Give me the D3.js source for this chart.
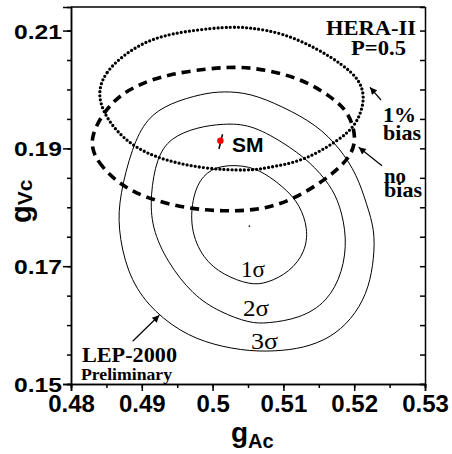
<!DOCTYPE html>
<html>
<head>
<meta charset="utf-8">
<script src="https://cdn.jsdelivr.net/npm/d3@7"></script>
<style>
body{margin:0;background:#fff}
svg{display:block}
</style>
</head>
<body>
<script>
// contours, [gAc, gVc]
var lep1sigma=[[0.5010,0.1872],[0.5053,0.1871],[0.5081,0.1852],[0.5105,0.1829],[0.5123,0.1804],[0.5135,0.1764],[0.5131,0.1724],[0.5109,0.1690],[0.5077,0.1671],[0.5053,0.1668],[0.5015,0.1685],[0.4986,0.1713],[0.4968,0.1764],[0.4972,0.1821],[0.4986,0.1855]]
var lep2sigma=[[0.5015,0.1942],[0.5053,0.1941],[0.5099,0.1911],[0.5138,0.1877],[0.5166,0.1838],[0.5180,0.1804],[0.5190,0.1748],[0.5184,0.1690],[0.5162,0.1639],[0.5123,0.1611],[0.5077,0.1603],[0.5053,0.1603],[0.5010,0.1622],[0.4972,0.1651],[0.4936,0.1707],[0.4914,0.1765],[0.4912,0.1821],[0.4921,0.1884],[0.4940,0.1918],[0.4978,0.1936]]
var lep3sigma=[[0.5015,0.1997],[0.5053,0.1994],[0.5099,0.1971],[0.5147,0.1940],[0.5180,0.1900],[0.5204,0.1855],[0.5218,0.1804],[0.5229,0.1761],[0.5228,0.1714],[0.5221,0.1664],[0.5203,0.1620],[0.5174,0.1584],[0.5138,0.1564],[0.5099,0.1556],[0.5053,0.1555],[0.5001,0.1566],[0.4954,0.1588],[0.4907,0.1634],[0.4879,0.1690],[0.4866,0.1765],[0.4869,0.1821],[0.4886,0.1901],[0.4907,0.1952],[0.4940,0.1977],[0.4986,0.1993]]
var hera1bias=[[0.4835,0.1979],[0.4845,0.2030],[0.4893,0.2076],[0.4940,0.2096],[0.5020,0.2107],[0.5053,0.2105],[0.5099,0.2096],[0.5147,0.2070],[0.5184,0.2042],[0.5208,0.2016],[0.5215,0.1986],[0.5208,0.1954],[0.5194,0.1928],[0.5161,0.1901],[0.5123,0.1877],[0.5076,0.1867],[0.5053,0.1862],[0.4986,0.1865],[0.4916,0.1884],[0.4869,0.1918]]
var heraNoBias=[[0.4824,0.1917],[0.4836,0.1877],[0.4869,0.1838],[0.4907,0.1815],[0.4963,0.1798],[0.5015,0.1793],[0.5066,0.1795],[0.5113,0.1812],[0.5161,0.1848],[0.5194,0.1883],[0.5204,0.1917],[0.5192,0.1962],[0.5170,0.1985],[0.5138,0.2010],[0.5100,0.2027],[0.5053,0.2038],[0.5010,0.2038],[0.4940,0.2027],[0.4893,0.2008],[0.4855,0.1979]]
var smPoint=[0.5011,0.1913]
var smBar=[[0.5014,0.1924],[0.5009,0.1899]]
var lepCentre=[0.5052,0.1768]
var xTicks=[0.48,0.49,0.50,0.51,0.52,0.53]
var xTickLabels=["0.48","0.49","0.5","0.51","0.52","0.53"]
var yTicks=[0.15,0.17,0.19,0.21]
var yTickLabels=["0.15","0.17","0.19","0.21"]

var screen={width:452,height:454}
var margins={top:7,right:27,bottom:70,left:71}
var xScale=d3.scaleLinear().domain([0.48,0.53]).range([margins.left,screen.width-margins.right])
var yScale=d3.scaleLinear().domain([0.15,0.214]).range([screen.height-margins.bottom,margins.top])
var minorY=d3.range(0,13).map(function(i){return 0.15+i*0.005})
var minorX=d3.range(0,11).map(function(i){return 0.48+i*0.005})

var svg=d3.select("body").append("svg")
          .attr("width",screen.width)
          .attr("height",screen.height)
var defs=svg.append("defs")
defs.append("marker")
    .attr("id","head")
    .attr("viewBox","0 0 10 10")
    .attr("refX",10).attr("refY",5)
    .attr("markerWidth",9).attr("markerHeight",7)
    .attr("markerUnits","userSpaceOnUse")
    .attr("orient","auto")
    .append("path").attr("d","M0,0L10,5L0,10z").attr("fill","#000")

var line=d3.line()
           .x(function(d){return xScale(d[0])})
           .y(function(d){return yScale(d[1])})
           .curve(d3.curveBasisClosed)

//LEP contours
svg.append("g").selectAll("path")
   .data([lep1sigma,lep2sigma,lep3sigma])
   .enter().append("path")
   .attr("d",line)
   .attr("fill","none")
   .attr("stroke","#000")
   .attr("stroke-width",1)
//HERA ellipses
svg.append("path").attr("d",line(heraNoBias))
   .attr("fill","none").attr("stroke","#000")
   .attr("stroke-width",3.6).attr("stroke-dasharray","9,6")
svg.append("path").attr("d",line(hera1bias))
   .attr("fill","none").attr("stroke","#000")
   .attr("stroke-width",3.3).attr("stroke-linecap","round")
   .attr("stroke-dasharray","0,4.1")

//SM point
svg.append("line")
   .attr("x1",xScale(smBar[0][0])).attr("y1",yScale(smBar[0][1]))
   .attr("x2",xScale(smBar[1][0])).attr("y2",yScale(smBar[1][1]))
   .attr("stroke","#000").attr("stroke-width",2)
svg.append("circle")
   .attr("cx",xScale(smPoint[0])).attr("cy",yScale(smPoint[1]))
   .attr("r",3.2).attr("fill","#f00")
svg.append("circle")
   .attr("cx",xScale(lepCentre[0])).attr("cy",yScale(lepCentre[1]))
   .attr("r",0.8).attr("fill","#000")

//axes
var x0=xScale(0.48),x1=xScale(0.53),y0=yScale(0.15),y1=yScale(0.214)
svg.append("g").attr("transform","translate("+x0+",0)")
   .call(d3.axisLeft(yScale).tickValues(minorY).tickSize(4).tickFormat(""))
svg.append("g").attr("transform","translate("+x0+",0)")
   .call(d3.axisLeft(yScale).tickValues(yTicks).tickSize(8).tickPadding(1)
           .tickFormat(function(d,i){return yTickLabels[i]}))
   .call(function(g){
     g.selectAll("text")
      .attr("font-family","'Liberation Sans',Arial,sans-serif")
      .attr("font-weight","bold").attr("font-size",20)
      .attr("dy","0.38em")
      .attr("textLength",48).attr("lengthAdjust","spacingAndGlyphs")
      .attr("fill","#000")
   })
svg.append("g").attr("transform","translate(0,"+y0+")")
   .call(d3.axisBottom(xScale).tickValues(minorX).tickSize(4).tickFormat(""))
svg.append("g").attr("transform","translate(0,"+y0+")")
   .call(d3.axisBottom(xScale).tickValues(xTicks).tickSize(7).tickPadding(3)
           .tickFormat(function(d,i){return xTickLabels[i]}))
   .call(function(g){
     g.selectAll("text")
      .attr("font-family","'Liberation Sans',Arial,sans-serif")
      .attr("font-weight","bold").attr("font-size",24)
      .attr("dy","0.74em").attr("fill","#000")
   })
svg.append("g").attr("transform","translate("+x1+",0)")
   .call(d3.axisLeft(yScale).tickValues(minorY).tickSize(5).tickFormat(""))
svg.append("line").attr("x1",x0).attr("x2",x1).attr("y1",y1).attr("y2",y1)
svg.selectAll(".domain,.tick line,svg>line").attr("stroke","#000").attr("stroke-width",1.5)

//axis titles
var xt=svg.append("text").attr("x",231).attr("y",442)
          .attr("font-family","'Liberation Sans',Arial,sans-serif").attr("font-weight","bold")
xt.append("tspan").attr("font-size",28).text("g")
xt.append("tspan").attr("font-size",20).attr("dy",6).text("Ac")
var yt=svg.append("text").attr("transform","translate(31,223) rotate(-90)")
          .attr("font-family","'Liberation Sans',Arial,sans-serif").attr("font-weight","bold")
yt.append("tspan").attr("font-size",29).text("g")
yt.append("tspan").attr("font-size",21).attr("dy",1).text("Vc")

//annotations
var serif="'Liberation Serif','Times New Roman',serif"
var notes=[
  {t:"HERA-II",x:326,y:35,s:22,w:"bold",len:90},
  {t:"P=0.5",x:351,y:55,s:22,w:"bold",len:55},
  {t:"1%",x:383,y:121.7,s:21,w:"bold",len:33},
  {t:"bias",x:383,y:140,s:21,w:"bold",len:38},
  {t:"no",x:384,y:183,s:21,w:"bold",len:22},
  {t:"bias",x:384,y:197,s:21,w:"bold",len:38},
  {t:"LEP-2000",x:82,y:362,s:22,w:"bold",len:95},
  {t:"1σ",x:241,y:277,s:23,w:"normal",len:24},
  {t:"2σ",x:243,y:316,s:23,w:"normal",len:26},
  {t:"3σ",x:251,y:349,s:23,w:"normal",len:27},
  {t:"Preliminary",x:81,y:380,s:16,w:"bold",len:91}
]
svg.append("g").selectAll("text")
   .data(notes).enter().append("text")
   .attr("x",function(d){return d.x})
   .attr("y",function(d){return d.y})
   .attr("font-size",function(d){return d.s})
   .attr("font-weight",function(d){return d.w})
   .attr("textLength",function(d){return d.len})
   .attr("lengthAdjust","spacingAndGlyphs")
   .attr("font-family",serif)
   .text(function(d){return d.t})
svg.append("text").attr("x",232).attr("y",151.7)
   .attr("font-family","'Liberation Sans',Arial,sans-serif").attr("font-weight","bold")
   .attr("font-size",21).text("SM")

var arrows=[[381,100,370,87.3],[382,165.7,358.7,147.3],[132.7,341.3,159.3,315.3]]
svg.append("g").selectAll("line")
   .data(arrows).enter().append("line")
   .attr("x1",function(d){return d[0]}).attr("y1",function(d){return d[1]})
   .attr("x2",function(d){return d[2]}).attr("y2",function(d){return d[3]})
   .attr("stroke","#000").attr("stroke-width",1.2)
   .attr("marker-end","url(#head)")
</script>
</body>
</html>
